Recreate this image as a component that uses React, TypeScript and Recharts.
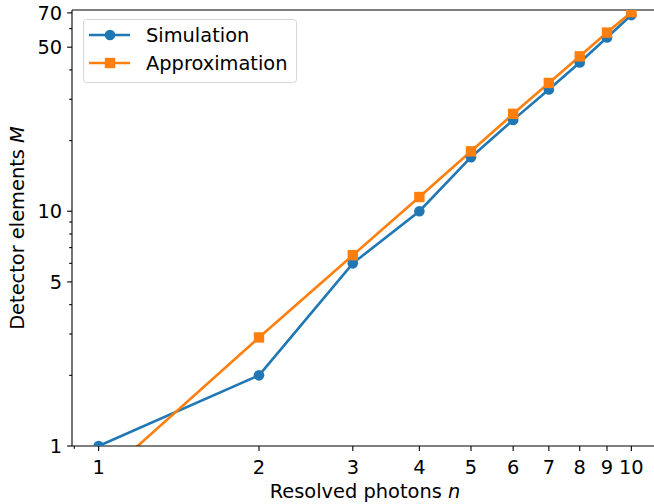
import React from "react";
import { LineChart, Line, XAxis, YAxis, ReferenceLine, Legend } from "recharts";

const N_VALUES = [1, 2, 3, 4, 5, 6, 7, 8, 9, 10];
const SIMULATION = [1, 2, 6, 10, 17, 24.5, 33, 43, 55, 68.5];
const APPROXIMATION = [0.71, 2.9, 6.5, 11.5, 18, 26, 35.2, 45.7, 57.7, 70.5];

const X_TICKS = [0.9, 1, 2, 3, 4, 5, 6, 7, 8, 9, 10];
const X_MAJOR = [1, 2, 3, 4, 5, 6, 7, 8, 9, 10];
const Y_TICKS = [1, 2, 3, 4, 5, 6, 7, 8, 9, 10, 20, 30, 40, 50, 60, 70];
const Y_MAJOR = [1, 5, 10, 50, 70];

const X_DOMAIN = [Math.pow(10, -0.05), Math.pow(10, 1.05)];
const Y_DOMAIN = [1, 72];

const data = N_VALUES.map((n, i) => ({ n, sim: SIMULATION[i], approx: APPROXIMATION[i] }));

const FONT = "'DejaVu Sans', sans-serif";
const FS = 19.4;
const BLUE = "#1f77b4";
const ORANGE = "#ff7f0e";

const PLOT_LEFT = 72;
const PLOT_BOTTOM = 446;
const MAJOR_LEN = 4.9;
const MINOR_LEN = 2.8;
const PAD = 4.9;
const LW = 2.6;
const R = 5.3;
const SQ = 10.4;

const XTick = (p: any) => {
  const v = p.payload.value;
  const x = p.payload.coordinate ?? p.x;
  const major = X_MAJOR.includes(v);
  return (
    <g>
      <line x1={x} x2={x} y1={PLOT_BOTTOM} y2={PLOT_BOTTOM + (major ? MAJOR_LEN : MINOR_LEN)} stroke="#000" strokeWidth={1.1} />
      {major && (
        <text x={x} y={473.5} textAnchor="middle" fontFamily={FONT} fontSize={FS} fill="#000">
          {String(v)}
        </text>
      )}
    </g>
  );
};

const YTick = (p: any) => {
  const v = p.payload.value;
  const y = p.payload.coordinate ?? p.y;
  const major = Y_MAJOR.includes(v);
  return (
    <g>
      <line x1={PLOT_LEFT - (major ? MAJOR_LEN : MINOR_LEN)} x2={PLOT_LEFT} y1={y} y2={y} stroke="#000" strokeWidth={1.1} />
      {major && (
        <text x={PLOT_LEFT - MAJOR_LEN - PAD} y={y + 7} textAnchor="end" fontFamily={FONT} fontSize={FS} fill="#000">
          {String(v)}
        </text>
      )}
    </g>
  );
};

const CircleDot = (p: any) => {
  if (p.cx == null || p.cy == null) return <g key={`c-${p.index}`} />;
  return <circle key={`c-${p.index}`} cx={p.cx} cy={p.cy} r={R} fill={BLUE} />;
};

const SquareDot = (p: any) => {
  if (p.cx == null || p.cy == null) return <g key={`s-${p.index}`} />;
  return <rect key={`s-${p.index}`} x={p.cx - SQ / 2} y={p.cy - SQ / 2} width={SQ} height={SQ} fill={ORANGE} />;
};

const LegendBox = () => (
  <svg width={215} height={65} style={{ display: "block" }}>
    <rect x={0.5} y={0.5} width={213} height={63} rx={3} ry={3} fill="rgba(255,255,255,0.8)" stroke="#d6d6d6" strokeWidth={1} />
    <line x1={6} x2={47} y1={16} y2={16} stroke={BLUE} strokeWidth={LW} />
    <circle cx={27} cy={16} r={R} fill={BLUE} />
    <text x={63} y={23} fontFamily={FONT} fontSize={FS} fill="#000">Simulation</text>
    <line x1={6} x2={47} y1={44} y2={44} stroke={ORANGE} strokeWidth={LW} />
    <rect x={27 - SQ / 2} y={44 - SQ / 2} width={SQ} height={SQ} fill={ORANGE} />
    <text x={63} y={51} fontFamily={FONT} fontSize={FS} fill="#000">Approximation</text>
  </svg>
);

export default function App() {
  return (
    <div style={{ position: "absolute", left: 0, top: 0, width: 654, height: 504, overflow: "hidden", background: "#fff" }}>
      <LineChart width={662} height={504} data={data} margin={{ top: 10, right: 4, bottom: 0, left: 0 }}>
        <XAxis
          dataKey="n"
          type="number"
          scale="log"
          domain={X_DOMAIN}
          allowDataOverflow
          ticks={X_TICKS}
          interval={0}
          tickLine={false}
          tick={(p: any) => <XTick {...p} />}
          height={58}
          axisLine={{ stroke: "#000", strokeWidth: 1.1 }}
          label={{
            content: () => (
              <text x={365} y={497.5} textAnchor="middle" fontFamily={FONT} fontSize={FS} fill="#000">
                Resolved photons <tspan fontStyle="italic">n</tspan>
              </text>
            ),
          }}
        />
        <YAxis
          type="number"
          scale="log"
          domain={Y_DOMAIN}
          allowDataOverflow
          ticks={Y_TICKS}
          interval={0}
          tickLine={false}
          tick={(p: any) => <YTick {...p} />}
          width={72}
          axisLine={{ stroke: "#000", strokeWidth: 1.1 }}
          label={{
            content: () => (
              <text x={23.5} y={228} transform="rotate(-90 23.5 228)" textAnchor="middle" fontFamily={FONT} fontSize={FS} fill="#000">
                Detector elements <tspan fontStyle="italic">M</tspan>
              </text>
            ),
          }}
        />
        <ReferenceLine y={Y_DOMAIN[1]} stroke="#000" strokeWidth={1.1} ifOverflow="extendDomain" />
        <ReferenceLine x={X_DOMAIN[1]} stroke="#000" strokeWidth={1.1} />
        <Line type="linear" dataKey="sim" stroke={BLUE} strokeWidth={LW} dot={CircleDot} activeDot={false} isAnimationActive={false} />
        <Line type="linear" dataKey="approx" stroke={ORANGE} strokeWidth={LW} dot={SquareDot} activeDot={false} isAnimationActive={false} />
        <Legend
          layout="horizontal"
          verticalAlign="middle"
          align="center"
          content={() => <LegendBox />}
          wrapperStyle={{ left: 83, top: 19, width: 215, height: 65, position: "absolute" }}
        />
      </LineChart>
    </div>
  );
}
